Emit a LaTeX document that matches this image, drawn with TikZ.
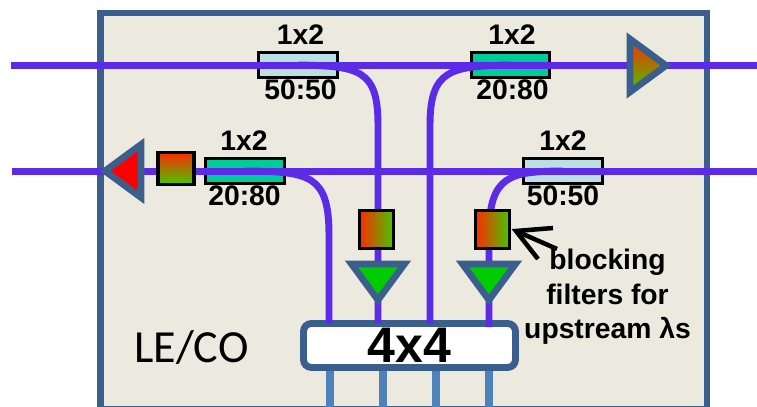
\documentclass[tikz,border=0pt]{standalone}
\usepackage{fontspec}
\setmainfont{Liberation Sans}
\newfontfamily\calfont{Carlito}
\usetikzlibrary{shapes.geometric}
\definecolor{panelbg}{HTML}{ECE9DF}
\definecolor{framecol}{HTML}{3B5F8D}
\definecolor{fibercol}{HTML}{5B2BE8}
\definecolor{portcol}{HTML}{4F81BD}
\definecolor{lightcpl}{HTML}{BBDFE3}
\definecolor{darkcpl}{HTML}{00CC99}
\definecolor{gradred}{HTML}{FF2A00}
\definecolor{gradmid}{HTML}{A8A000}
\definecolor{gradgreen}{HTML}{44C800}
\definecolor{ampgreen}{HTML}{00CC00}
\tikzset{
  fiber/.style={draw=fibercol,line width=5.2pt},
  portline/.style={draw=portcol,line width=5.4pt},
  coupler/.style={draw=black,line width=2.4pt,minimum width=59pt,minimum height=19pt,inner sep=0pt,outer sep=0pt},
  lbl/.style={font=\bfseries\fontsize{21.2}{25.9}\selectfont,inner sep=0pt,align=center},
  filt/.style={draw=black,line width=2.4pt,inner sep=0pt,outer sep=0pt},
  amp/.style={shape=isosceles triangle,isosceles triangle stretches,draw=framecol,line width=5pt,
    minimum width=39.75pt,minimum height=27pt,inner sep=0pt,outer sep=0pt},
}
\begin{document}
\begin{tikzpicture}[x=.75pt,y=-.75pt]
          \path[use as bounding box] (0,0) rectangle (757,407);
          \clip (0,0) rectangle (757,407);
          \draw[framecol,fill=panelbg,line width=5.2pt] (100.5,13) rectangle (707,409.5);

          \node[coupler,fill=lightcpl] (cplA) at (298,65) {};
          \node[coupler,fill=darkcpl] (cplB) at (510.5,65) {};
          \node[coupler,fill=darkcpl] (cplC) at (245,171) {};
          \node[coupler,fill=lightcpl] (cplD) at (563,171) {};

          \foreach \x in {330,383,436,489}
            \draw[portline] (\x,365) -- (\x,407);
          \node[draw=framecol,fill=white,line width=5.2pt,rounded corners=6pt,minimum width=159pt,minimum height=33pt,
            inner sep=0pt,outer sep=0pt,font=\bfseries\fontsize{37.5}{37.5}\selectfont] (box) at (409.5,345.5) {4x4};

          \coordinate (inA) at (11,65.5);
          \coordinate (outA) at (757,65.5);
          \coordinate (inB) at (12,171.5);
          \coordinate (outB) at (757,171.5);
          \draw[fiber] (inA) -- (outA);
          \draw[fiber] (inB) -- (outB);
          \draw[fiber] (cplA.center) .. controls (360,66) and (378,70) .. (378,125) -- (box.north -| 378,0);
          \draw[fiber] (cplB.center) .. controls (450,66) and (430,70) .. (430,125) -- (box.north -| 430,0);
          \draw[fiber] (cplC.center) .. controls (310,171.5) and (329,175) .. (329,235) -- (box.north -| 329,0);
          \draw[fiber] (cplD.center) .. controls (510,171.5) and (489,175) .. (489,235) -- (489,327);

          \node[filt,top color=gradred,middle color=gradmid,bottom color=gradgreen,minimum width=27pt,minimum height=24pt] (filtA) at (176,168.5) {};
          \node[filt,left color=gradred,middle color=gradmid,right color=gradgreen,minimum width=25.5pt,minimum height=28.5pt] (filtB) at (376.5,229.5) {};
          \node[filt,left color=gradred,middle color=gradmid,right color=gradgreen,minimum width=25.5pt,minimum height=28.5pt] (filtC) at (492.5,229.5) {};

          \node[amp,shape border rotate=0,anchor=apex,top color=gradred,middle color=gradmid,bottom color=gradgreen] (ampA) at (666,65.5) {};
          \node[amp,shape border rotate=180,anchor=apex,fill=red] (ampB) at (105,171) {};
          \node[amp,shape border rotate=270,anchor=apex,fill=ampgreen] (ampC) at (378,300) {};
          \node[amp,shape border rotate=270,anchor=apex,fill=ampgreen] (ampD) at (489,300) {};

          \node[lbl] (topA) at (300.5,35) {1x2};
          \node[lbl] (botA) at (300.5,90) {50:50};
          \node[lbl] (topB) at (512,35) {1x2};
          \node[lbl] (botB) at (512.5,90) {20:80};
          \node[lbl] (topC) at (244,141) {1x2};
          \node[lbl] (botC) at (244.5,196) {20:80};
          \node[lbl] (topD) at (563,141) {1x2};
          \node[lbl] (botD) at (563,196) {50:50};

          \node[lbl] (note) at (607.5,297) {blocking\\filters for\\upstream λs};
          \node[inner sep=0pt,font=\calfont\fontsize{34.5}{34.5}\selectfont] (site) at (191.5,348) {LE/CO};

          \coordinate (tip) at (516,231);
          \coordinate (tail) at (557,249);
          \coordinate (barbA) at (553,228);
          \coordinate (barbB) at (538,259);
          \draw[line width=3.4pt] (barbA) -- (tip) -- (barbB);
          \draw[line width=3.4pt] (tail) -- (tip);
\end{tikzpicture}
\end{document}
